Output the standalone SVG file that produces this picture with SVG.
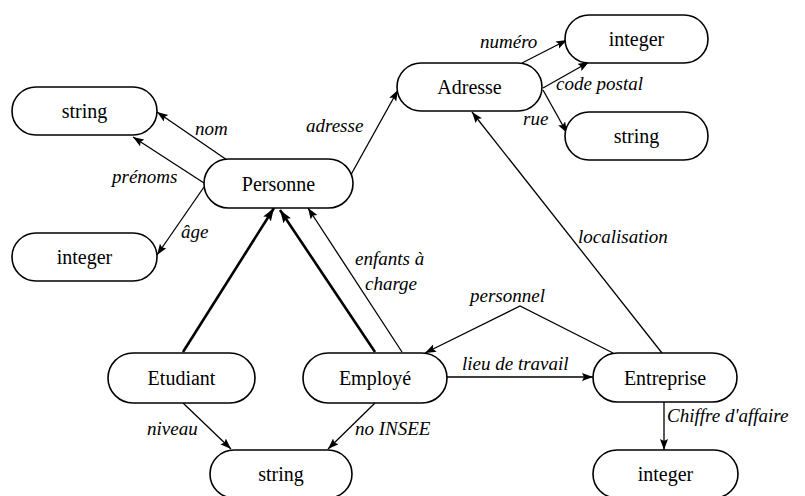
<svg xmlns="http://www.w3.org/2000/svg" width="805" height="496" viewBox="0 0 805 496">
  <defs>
    <marker id="arr" markerUnits="userSpaceOnUse" markerWidth="12" markerHeight="9" refX="11" refY="4" orient="auto">
      <path d="M0,0 L11,4 L0,8 L2,4 z" fill="#000"/>
    </marker>
    <marker id="arrBig" markerUnits="userSpaceOnUse" markerWidth="14" markerHeight="10" refX="13" refY="4.5" orient="auto">
      <path d="M0,0 L13,4.5 L0,9 L2.5,4.5 z" fill="#000"/>
    </marker>
  </defs>
  <style>
    .node rect { fill: #fff; stroke: #000; stroke-width: 1.6; }
    .node text { font-size: 20px; text-anchor: middle; fill: #000; }
    .edge { fill: none; stroke: #000; stroke-width: 1.3; marker-end: url(#arr); }
    .isa { fill: none; stroke: #000; stroke-width: 2.6; marker-end: url(#arrBig); }
    .lbl { font-style: italic; font-size: 19px; fill: #000; }
  </style>

  <g font-family="Liberation Serif, serif">
  <!-- connectors -->
  <g id="connectors">
    <line class="edge" x1="227" y1="160" x2="157" y2="112"/>
    <line class="edge" x1="204" y1="183" x2="133" y2="137"/>
    <line class="edge" x1="204" y1="187" x2="157" y2="255"/>
    <line class="edge" x1="348" y1="180" x2="398" y2="90"/>
    <line class="edge" x1="522" y1="63" x2="567" y2="40"/>
    <line class="edge" x1="543" y1="88" x2="589" y2="62"/>
    <line class="edge" x1="543" y1="90" x2="567" y2="133"/>
    <line class="edge" x1="662" y1="353" x2="472" y2="112"/>
    <polyline class="edge" points="613,353 520,306 425,353"/>
    <line class="edge" x1="447" y1="377" x2="593" y2="377"/>
    <line class="edge" x1="664" y1="402" x2="664" y2="450"/>
    <line class="isa" x1="183" y1="352" x2="274" y2="208"/>
    <line class="isa" x1="375" y1="352" x2="280" y2="210"/>
    <line class="edge" x1="402" y1="352" x2="308" y2="208"/>
    <line class="edge" x1="183" y1="403" x2="231" y2="449"/>
    <line class="edge" x1="375" y1="403" x2="328" y2="449"/>

    <text class="lbl" x="195" y="135">nom</text>
    <text class="lbl" x="112" y="183">prénoms</text>
    <text class="lbl" x="181" y="238">âge</text>
    <text class="lbl" x="306" y="132">adresse</text>
    <text class="lbl" x="480" y="48">numéro</text>
    <text class="lbl" x="556" y="90">code postal</text>
    <text class="lbl" x="523" y="125">rue</text>
    <text class="lbl" x="355" y="265">enfants à</text>
    <text class="lbl" x="365" y="290">charge</text>
    <text class="lbl" x="578" y="243">localisation</text>
    <text class="lbl" x="470" y="302">personnel</text>
    <text class="lbl" x="462" y="370">lieu de travail</text>
    <text class="lbl" x="667" y="422">Chiffre d'affaire</text>
    <text class="lbl" x="147" y="435">niveau</text>
    <text class="lbl" x="355" y="435">no INSEE</text>
  </g>

  <!-- nodes -->
  <g id="n-string-left" class="node"><rect x="12" y="87" width="145" height="48" rx="24"/><text x="84.5" y="118">string</text></g>
  <g id="n-integer-left" class="node"><rect x="12" y="233" width="145" height="48" rx="24"/><text x="84.5" y="264">integer</text></g>
  <g id="n-personne" class="node"><rect x="204" y="159" width="149" height="49" rx="24.5"/><text x="278.5" y="191">Personne</text></g>
  <g id="n-adresse" class="node"><rect x="397" y="63" width="145" height="48" rx="24"/><text x="469.5" y="94">Adresse</text></g>
  <g id="n-integer-top" class="node"><rect x="565" y="15" width="143" height="48" rx="24"/><text x="636.5" y="46">integer</text></g>
  <g id="n-string-right" class="node"><rect x="565" y="112" width="143" height="48" rx="24"/><text x="636.5" y="143">string</text></g>
  <g id="n-etudiant" class="node"><rect x="108" y="353" width="147" height="50" rx="25"/><text x="181.5" y="385">Etudiant</text></g>
  <g id="n-employe" class="node"><rect x="303" y="353" width="144" height="50" rx="25"/><text x="375" y="385">Employé</text></g>
  <g id="n-entreprise" class="node"><rect x="593" y="353" width="144" height="49" rx="24.5"/><text x="665" y="385">Entreprise</text></g>
  <g id="n-string-bottom" class="node"><rect x="210" y="450" width="142" height="48" rx="24"/><text x="281" y="481">string</text></g>
  <g id="n-integer-bottom" class="node"><rect x="593" y="450" width="145" height="48" rx="24"/><text x="665.5" y="481">integer</text></g>
  </g>
</svg>
